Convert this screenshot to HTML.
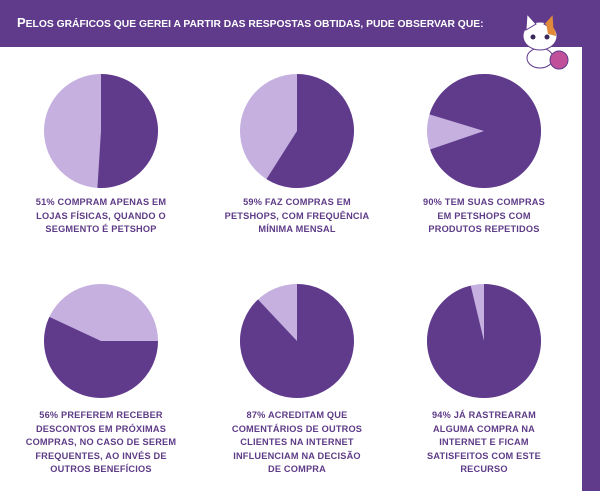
<!DOCTYPE html>
<html><head><meta charset="utf-8"><style>
html,body{margin:0;padding:0}
body{width:600px;height:491px;position:relative;background:#fff;overflow:hidden;font-family:"Liberation Sans",sans-serif}
#top{position:absolute;left:0;top:0;width:600px;height:47px;background:#603b8c}
#side{position:absolute;left:582px;top:0;width:18px;height:491px;background:#603b8c}
#title{position:absolute;left:17px;top:15px;color:#fff;font-size:10.3px;font-weight:bold;text-transform:uppercase;letter-spacing:0px;white-space:nowrap}
#title b{font-size:13px}
.t{position:absolute;width:200px;text-align:center;color:#5e3b87;font-size:9.2px;font-weight:bold;text-transform:uppercase;line-height:13.6px;letter-spacing:0.2px}
svg{position:absolute;left:0;top:0}
</style></head><body>
<div id="top"></div><div id="side"></div>
<div id="title"><b>P</b>elos gráficos que gerei a partir das respostas obtidas, pude observar que:</div>
<svg width="600" height="491" id="s">
<g id="cat">
<ellipse cx="540" cy="58" rx="13" ry="10" fill="#fff" stroke="#603b8c" stroke-width="1"/>
<ellipse cx="540" cy="36" rx="17" ry="14" fill="#fff" stroke="#603b8c" stroke-width="1"/>
<polygon points="526,30 527,14 536,24" fill="#fff" stroke="#603b8c" stroke-width="1"/>
<polygon points="554,30 553,14 544,24" fill="#e08a3a" stroke="#603b8c" stroke-width="1"/>
<path d="M546,23 Q556,26 556,36 L548,34 Z" fill="#e08a3a"/>
<circle cx="533" cy="37" r="2.5" fill="#3a2a5a"/><circle cx="547" cy="37" r="2.5" fill="#3a2a5a"/>
<circle cx="559" cy="60" r="9" fill="#c0509a" stroke="#603b8c" stroke-width="1"/>
</g>
</svg>
<div class="t" style="left:1px;top:196px">51% compram apenas em<br>lojas físicas, quando o<br>segmento é petshop</div>
<div class="t" style="left:197px;top:196px">59% faz compras em<br>petshops, com frequência<br>mínima mensal</div>
<div class="t" style="left:384px;top:196px">90% tem suas compras<br>em petshops com<br>produtos repetidos</div>
<div class="t" style="left:1px;top:409px">56% preferem receber<br>descontos em próximas<br>compras, no caso de serem<br>frequentes, ao invés de<br>outros benefícios</div>
<div class="t" style="left:197px;top:409px">87% acreditam que<br>comentários de outros<br>clientes na Internet<br>influenciam na decisão<br>de compra</div>
<div class="t" style="left:384px;top:409px">94% já rastrearam<br>alguma compra na<br>Internet e ficam<br>satisfeitos com este<br>recurso</div>
<script>
var s=document.getElementById('s'),NS='http://www.w3.org/2000/svg';
function pt(cx,cy,r,a){a=a*Math.PI/180;return [cx+r*Math.sin(a),cy-r*Math.cos(a)];}
function wedge(cx,cy,r,a0,a1,c){var p=document.createElementNS(NS,'path');var A=pt(cx,cy,r,a0),B=pt(cx,cy,r,a1);var large=((a1-a0+360)%360)>180?1:0;
p.setAttribute('d','M'+cx+','+cy+' L'+A[0]+','+A[1]+' A'+r+','+r+' 0 '+large+' 1 '+B[0]+','+B[1]+' Z');p.setAttribute('fill',c);s.insertBefore(p,s.firstChild);}
function pie(cx,cy,r,d0,d1){var c=document.createElementNS(NS,'circle');c.setAttribute('cx',cx);c.setAttribute('cy',cy);c.setAttribute('r',r);c.setAttribute('fill','#c5b0e0');
wedge(cx,cy,r,d0,d1,'#603b8c');s.insertBefore(c,s.firstChild);}
pie(101,131,57,0,183.6);
pie(297,131,57,0,212.4);
pie(484,131,57,287,251);
pie(101,341,57,90,295);
pie(297,341,57,0,316.8);
pie(484,341,57,0,346.5);
</script>
</body></html>
